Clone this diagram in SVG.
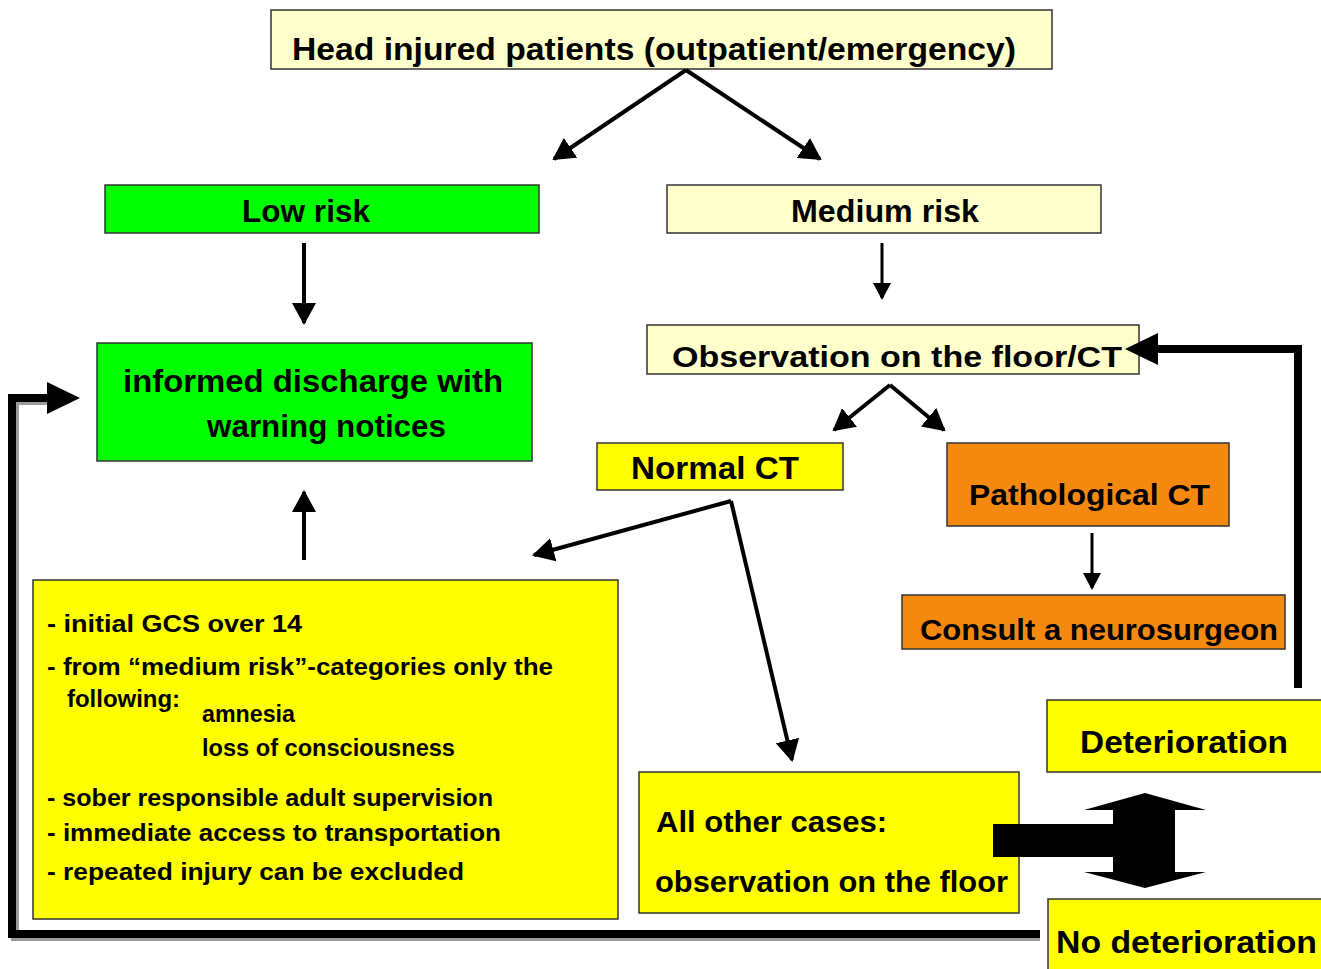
<svg xmlns="http://www.w3.org/2000/svg" width="1321" height="969" viewBox="0 0 1321 969">
<style>
.box{stroke:#333;stroke-width:1.5}
.ly{fill:#ffffcc}
.gr{fill:#00ff00}
.ye{fill:#ffff00}
.or{fill:#f5890f}
.t{font-family:"Liberation Sans",Arial,sans-serif;font-weight:bold;fill:#000}
.h{font-size:31px}
.m{font-size:29px}
.s{font-size:23px}
.ln{stroke:#000;fill:none}
.thick{stroke:#000;stroke-width:8;fill:none}
.shadow{stroke:#9a9a9a;stroke-width:8;fill:none}
.head{fill:#000}
</style>
<defs>
<marker id="ah" markerUnits="userSpaceOnUse" markerWidth="24" markerHeight="24" refX="20" refY="12" orient="auto" viewBox="0 0 24 24">
<path d="M0,0 L22,12 L0,24 z" fill="#000"/>
</marker>
<marker id="ahs" markerUnits="userSpaceOnUse" markerWidth="18" markerHeight="18" refX="15" refY="9" orient="auto" viewBox="0 0 18 18">
<path d="M0,0 L17,9 L0,18 z" fill="#000"/>
</marker>
</defs>

<g id="n-head"><rect class="box ly" x="271" y="10" width="781" height="59"/><text class="t h" x="292" y="60" textLength="724" lengthAdjust="spacingAndGlyphs">Head injured patients (outpatient/emergency)</text></g>
<g id="n-low"><rect class="box gr" x="105" y="185" width="434" height="48"/><text class="t h" x="242" y="222" textLength="128" lengthAdjust="spacingAndGlyphs">Low risk</text></g>
<g id="n-medium"><rect class="box ly" x="667" y="185" width="434" height="48"/><text class="t h" x="791" y="222" textLength="188" lengthAdjust="spacingAndGlyphs">Medium risk</text></g>
<g id="n-discharge"><rect class="box gr" x="97" y="343" width="435" height="118"/><text class="t h" x="123" y="392" textLength="380" lengthAdjust="spacingAndGlyphs">informed discharge with</text><text class="t h" x="207" y="437" textLength="239" lengthAdjust="spacingAndGlyphs">warning notices</text></g>
<g id="n-observation"><rect class="box ly" x="647" y="325" width="492" height="49"/><text class="t m" x="672" y="367" textLength="450" lengthAdjust="spacingAndGlyphs">Observation on the floor/CT</text></g>
<g id="n-normal"><rect class="box ye" x="597" y="443" width="246" height="47"/><text class="t h" x="631" y="479" textLength="168" lengthAdjust="spacingAndGlyphs">Normal CT</text></g>
<g id="n-patho"><rect class="box or" x="947" y="443" width="282" height="83"/><text class="t m" x="969" y="505" textLength="241" lengthAdjust="spacingAndGlyphs">Pathological CT</text></g>
<g id="n-consult"><rect class="box or" x="902" y="595" width="383" height="54"/><text class="t m" x="920" y="640" textLength="358" lengthAdjust="spacingAndGlyphs">Consult a neurosurgeon</text></g>
<g id="n-criteria"><rect class="box ye" x="33" y="580" width="585" height="339"/>
<text class="t s" x="47" y="632" textLength="255" lengthAdjust="spacingAndGlyphs">- initial GCS over 14</text>
<text class="t s" x="47" y="675" textLength="506" lengthAdjust="spacingAndGlyphs">- from “medium risk”-categories only the</text>
<text class="t s" x="67" y="707" textLength="113" lengthAdjust="spacingAndGlyphs">following:</text>
<text class="t s" x="202" y="722" textLength="93" lengthAdjust="spacingAndGlyphs">amnesia</text>
<text class="t s" x="202" y="756" textLength="253" lengthAdjust="spacingAndGlyphs">loss of consciousness</text>
<text class="t s" x="47" y="806" textLength="446" lengthAdjust="spacingAndGlyphs">- sober responsible adult supervision</text>
<text class="t s" x="47" y="841" textLength="454" lengthAdjust="spacingAndGlyphs">- immediate access to transportation</text>
<text class="t s" x="47" y="880" textLength="417" lengthAdjust="spacingAndGlyphs">- repeated injury can be excluded</text>
</g>
<g id="n-other"><rect class="box ye" x="639" y="772" width="380" height="141"/><text class="t m" x="656" y="832" textLength="231" lengthAdjust="spacingAndGlyphs">All other cases:</text><text class="t m" x="655" y="892" textLength="353" lengthAdjust="spacingAndGlyphs">observation on the floor</text></g>
<g id="n-deterioration"><rect class="box ye" x="1047" y="700" width="280" height="72"/><text class="t h" x="1080" y="753" textLength="208" lengthAdjust="spacingAndGlyphs">Deterioration</text></g>
<g id="n-nodeterioration"><rect class="box ye" x="1048" y="899" width="280" height="75"/><text class="t h" x="1056" y="953" textLength="261" lengthAdjust="spacingAndGlyphs">No deterioration</text></g>

<g id="connectors">
<line class="ln" stroke-width="4" x1="686" y1="70" x2="554" y2="159" marker-end="url(#ah)"/>
<line class="ln" stroke-width="4" x1="686" y1="70" x2="820" y2="159" marker-end="url(#ah)"/>
<line class="ln" stroke-width="4" x1="304" y1="243" x2="304" y2="323" marker-end="url(#ah)"/>
<line class="ln" stroke-width="3" x1="882" y1="243" x2="882" y2="298" marker-end="url(#ahs)"/>
<line class="ln" stroke-width="4" x1="890" y1="385" x2="834" y2="430" marker-end="url(#ah)"/>
<line class="ln" stroke-width="4" x1="890" y1="385" x2="944" y2="430" marker-end="url(#ah)"/>
<line class="ln" stroke-width="4" x1="731" y1="501" x2="534" y2="555" marker-end="url(#ah)"/>
<line class="ln" stroke-width="4" x1="731" y1="501" x2="792" y2="760" marker-end="url(#ah)"/>
<line class="ln" stroke-width="3" x1="1092" y1="533" x2="1092" y2="588" marker-end="url(#ahs)"/>
<line class="ln" stroke-width="4" x1="304" y1="560" x2="304" y2="492" marker-end="url(#ah)"/>
<polyline class="thick" points="1298,688 1298,349 1155,349"/>
<polygon class="head" points="1125,349 1158,333 1158,365"/>
<polyline class="shadow" points="1040,937 15,937 15,401 50,401"/>
<polyline class="thick" points="1040,934 12,934 12,398 50,398"/>
<polygon class="head" points="80,398 47,382 47,414"/>
</g>

<g id="double-arrow"><polygon fill="#000" points="1145,793 1206,810 1175,810 1175,872 1206,872 1145,888 1084,872 1113,872 1113,857 993,857 993,824 1113,824 1113,810 1084,810"/></g>
</svg>
